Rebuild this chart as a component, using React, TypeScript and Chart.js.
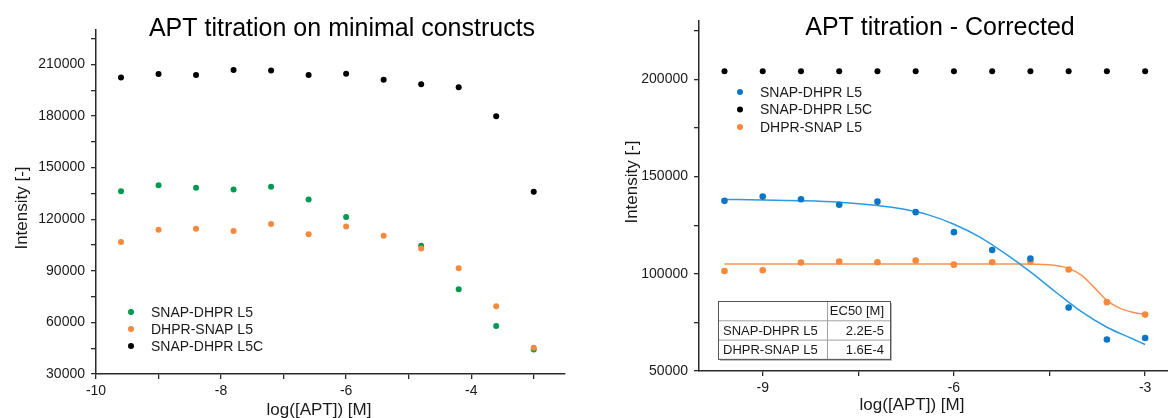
import React, { useEffect, useRef } from 'react';
import { Chart, registerables } from 'chart.js';

Chart.register(...registerables);

const FONT = '"Liberation Sans", Arial, Helvetica, sans-serif';

// ---------- shared x values: log([APT]) [M]
const logConc = [-9.6, -9.0, -8.4, -7.8, -7.2, -6.6, -6.0, -5.4, -4.8, -4.2, -3.6, -3.0];

const xAxisTitle = 'log([APT]) [M]';
const yAxisTitle = 'Intensity [-]';

// ---------- left panel (raw)
const leftTitle = 'APT titration on minimal constructs';
const leftNames = ['SNAP-DHPR L5', 'DHPR-SNAP L5', 'SNAP-DHPR L5C'];
const leftSnapL5 = [136300, 139800, 138300, 137300, 138800, 131400, 121300, null, 104600, 79300, 57900, 44300];
const leftDhprL5 = [106800, 113900, 114400, 113200, 117200, 111300, 115800, 110400, 103000, 91500, 69400, 45200];
const leftSnapL5C = [202400, 204400, 203800, 206800, 206400, 203800, 204500, 201100, 198400, 196700, 179900, 135900];
const leftXTicks = [-10, -9, -8, -7, -6, -5, -4, -3];
const leftXLabels = ['-10', '', '-8', '', '-6', '', '-4', ''];
const leftYTicks = [30000, 45000, 60000, 75000, 90000, 105000, 120000, 135000, 150000, 165000, 180000, 195000, 210000, 225000];
const leftYLabels = ['30000', '', '60000', '', '90000', '', '120000', '', '150000', '', '180000', '', '210000', ''];

// ---------- right panel (corrected)
const rightTitle = 'APT titration - Corrected';
const rightNames = ['SNAP-DHPR L5', 'SNAP-DHPR L5C', 'DHPR-SNAP L5'];
const rightSnapL5 = [137500, 139700, 138300, 135500, 137100, 131700, 121400, 112200, 107800, 82600, 66200, 67000];
const rightSnapL5C = [204100, 204100, 204100, 204100, 204100, 204100, 204100, 204100, 204100, 204100, 204100, 204100];
const rightDhprL5 = [101400, 101800, 105800, 106300, 105900, 106800, 104700, 105900, 106300, 102200, 85400, 79000];
const fitSnapX = [-9.6, -9.0, -8.4, -7.8, -7.2, -6.8, -6.4, -6.0, -5.6, -5.2, -4.8, -4.4, -4.0, -3.6, -3.2, -3.0];
const fitSnapY = [138200, 138000, 137600, 136800, 135100, 133300, 130300, 125500, 119000, 110500, 101000, 90500, 80500, 72500, 66600, 63600];
const fitDhprX = [-9.6, -5.0, -4.6, -4.4, -4.2, -4.0, -3.8, -3.6, -3.4, -3.2, -3.0];
const fitDhprY = [105000, 105000, 104800, 104300, 102800, 99300, 93000, 86300, 82300, 80200, 79100];
const rightXTicks = [-9, -7.5, -6, -4.5, -3];
const rightXLabels = ['-9', '', '-6', '', '-3'];
const rightYTicks = [50000, 75000, 100000, 125000, 150000, 175000, 200000, 225000];
const rightYLabels = ['50000', '', '100000', '', '150000', '', '200000', ''];

const ec50Header = 'EC50 [M]';
const ec50Names = ['SNAP-DHPR L5', 'DHPR-SNAP L5'];
const ec50Values = ['2.2E-5', '1.6E-4'];

// ---------- colours
const GREEN = '#009a4e';
const ORANGE = '#f7883c';
const BLACK = '#000000';
const BLUE = '#0b76c6';
const BLUE_LINE = '#2a9be0';
const ORANGE_LINE = '#f7944f';
const TEXT = '#1a1a1a';
const AXIS = '#2a2a2a';

const pts = (xs: number[], ys: (number | null)[]) =>
  xs.map((x, i) => ({ x, y: ys[i] })).filter((p) => p.y !== null);

const decorPlugin = {
  id: 'decor',
  afterDraw(chart: any, _args: any, o: any) {
    const ctx = chart.ctx;
    ctx.save();
    // title
    ctx.fillStyle = '#000';
    ctx.textAlign = 'center';
    ctx.textBaseline = 'alphabetic';
    ctx.font = `${o.titleSize}px ${FONT}`;
    ctx.fillText(o.title, o.titleX, o.titleY);
    // axis titles
    ctx.fillStyle = TEXT;
    ctx.font = `${o.axisSize}px ${FONT}`;
    ctx.fillText(o.xTitle, o.xTitleX, o.xTitleY);
    ctx.save();
    ctx.translate(o.yTitleX, o.yTitleY);
    ctx.rotate(-Math.PI / 2);
    ctx.textBaseline = 'middle';
    ctx.fillText(o.yTitle, 0, 0);
    ctx.restore();
    // legend
    const lg = o.legend;
    ctx.font = `${lg.size}px ${FONT}`;
    ctx.textAlign = 'left';
    ctx.textBaseline = 'middle';
    lg.items.forEach((it: any, i: number) => {
      const y = lg.y + i * lg.rowH;
      ctx.fillStyle = it.color;
      ctx.beginPath();
      ctx.arc(lg.x, y, lg.r, 0, Math.PI * 2);
      ctx.fill();
      ctx.fillStyle = TEXT;
      ctx.fillText(it.label, lg.x + lg.gap, y + 1);
    });
    // table
    const t = o.table;
    if (t) {
      const h = t.rowH * 3;
      ctx.fillStyle = '#b8b8b8';
      ctx.fillRect(t.x + 2, t.y + 2, t.w, h);
      ctx.fillStyle = '#fff';
      ctx.fillRect(t.x, t.y, t.w, h);
      ctx.strokeStyle = '#a0a0a0';
      ctx.lineWidth = 1;
      ctx.beginPath();
      ctx.moveTo(t.x, t.y + t.rowH + 0.5);
      ctx.lineTo(t.x + t.w, t.y + t.rowH + 0.5);
      ctx.moveTo(t.x, t.y + 2 * t.rowH + 0.5);
      ctx.lineTo(t.x + t.w, t.y + 2 * t.rowH + 0.5);
      ctx.moveTo(t.colX + 0.5, t.y);
      ctx.lineTo(t.colX + 0.5, t.y + h);
      ctx.stroke();
      ctx.strokeStyle = '#555';
      ctx.strokeRect(t.x + 0.5, t.y + 0.5, t.w, h);
      ctx.font = `${t.size}px ${FONT}`;
      ctx.fillStyle = TEXT;
      ctx.textBaseline = 'middle';
      ctx.textAlign = 'right';
      ctx.fillText(t.header, t.x + t.w - 6, t.y + t.rowH / 2 + 1);
      t.rows.forEach((r: string[], i: number) => {
        const cy = t.y + (i + 1.5) * t.rowH + 1;
        ctx.textAlign = 'left';
        ctx.fillText(r[0], t.x + 5, cy);
        ctx.textAlign = 'right';
        ctx.fillText(r[1], t.x + t.w - 6, cy);
      });
    }
    ctx.restore();
  },
};

function axisCommon(ticks: number[], labels: string[], fitKey: 'width' | 'height', fitSize: number, min: number, max: number) {
  return {
    type: 'linear' as const,
    min,
    max,
    afterBuildTicks: (s: any) => {
      s.ticks = ticks.map((v) => ({ value: v }));
    },
    afterFit: (s: any) => {
      s[fitKey] = fitSize;
    },
    grid: {
      display: true,
      drawOnChartArea: false,
      drawTicks: true,
      tickLength: 5,
      color: AXIS,
      lineWidth: 1.3,
    },
    border: { display: true, color: AXIS, width: 1.5 },
    ticks: {
      autoSkip: false,
      maxRotation: 0,
      minRotation: 0,
      padding: fitKey === 'height' ? 4 : 6,
      color: TEXT,
      font: { family: FONT, size: 14 },
      callback: (_v: any, i: number) => labels[i] ?? '',
    },
  };
}

function LeftChart() {
  const ref = useRef<HTMLCanvasElement | null>(null);
  useEffect(() => {
    if (!ref.current) return;
    const chart = new Chart(ref.current, {
      type: 'scatter',
      data: {
        datasets: [
          { label: leftNames[2], data: pts(logConc, leftSnapL5C), backgroundColor: BLACK, borderWidth: 0, pointRadius: 3 },
          { label: leftNames[1], data: pts(logConc, leftDhprL5), backgroundColor: ORANGE, borderWidth: 0, pointRadius: 3 },
          { label: leftNames[0], data: pts(logConc, leftSnapL5), backgroundColor: GREEN, borderWidth: 0, pointRadius: 3 },
        ],
      },
      options: {
        animation: false,
        responsive: false,
        devicePixelRatio: 1,
        layout: { padding: { top: 30, right: 15, left: 0, bottom: 0 } },
        plugins: {
          legend: { display: false },
          title: { display: false },
          tooltip: { enabled: false },
          decor: {
            title: leftTitle, titleSize: 25, titleX: 342, titleY: 36,
            axisSize: 17, xTitle: xAxisTitle, xTitleX: 319, xTitleY: 415,
            yTitle: yAxisTitle, yTitleX: 22, yTitleY: 208,
            legend: {
              x: 131, y: 312, rowH: 17, r: 3, gap: 20, size: 14,
              items: [
                { label: leftNames[0], color: GREEN },
                { label: leftNames[1], color: ORANGE },
                { label: leftNames[2], color: BLACK },
              ],
            },
          },
        } as any,
        scales: {
          x: axisCommon(leftXTicks, leftXLabels, 'height', 66, -10, -2.5) as any,
          y: axisCommon(leftYTicks, leftYLabels, 'width', 96, 30000, 230000) as any,
        },
      },
      plugins: [decorPlugin],
    });
    return () => chart.destroy();
  }, []);
  return <canvas ref={ref} width={580} height={440} style={{ position: 'absolute', left: 0, top: 0, width: 580, height: 440 }} />;
}

function RightChart() {
  const ref = useRef<HTMLCanvasElement | null>(null);
  useEffect(() => {
    if (!ref.current) return;
    const chart = new Chart(ref.current, {
      type: 'scatter',
      data: {
        datasets: [
          { label: rightNames[0], data: pts(logConc, rightSnapL5), backgroundColor: BLUE, borderWidth: 0, pointRadius: 3.3 },
          { label: rightNames[2], data: pts(logConc, rightDhprL5), backgroundColor: ORANGE, borderWidth: 0, pointRadius: 3.3 },
          { label: rightNames[1], data: pts(logConc, rightSnapL5C), backgroundColor: BLACK, borderWidth: 0, pointRadius: 3 },
          {
            label: 'fit ' + rightNames[0], data: pts(fitSnapX, fitSnapY), showLine: true, pointRadius: 0,
            borderColor: BLUE_LINE, borderWidth: 1.5, cubicInterpolationMode: 'monotone', fill: false,
          },
          {
            label: 'fit ' + rightNames[2], data: pts(fitDhprX, fitDhprY), showLine: true, pointRadius: 0,
            borderColor: ORANGE_LINE, borderWidth: 1.5, cubicInterpolationMode: 'monotone', fill: false,
          },
        ] as any,
      },
      options: {
        animation: false,
        responsive: false,
        devicePixelRatio: 1,
        layout: { padding: { top: 21, right: 23, left: 0, bottom: 0 } },
        plugins: {
          legend: { display: false },
          title: { display: false },
          tooltip: { enabled: false },
          decor: {
            title: rightTitle, titleSize: 25, titleX: 360, titleY: 35,
            axisSize: 17, xTitle: xAxisTitle, xTitleX: 332, xTitleY: 410,
            yTitle: yAxisTitle, yTitleX: 52, yTitleY: 182,
            legend: {
              x: 160, y: 92, rowH: 17.5, r: 3, gap: 20, size: 14,
              items: [
                { label: rightNames[0], color: BLUE },
                { label: rightNames[1], color: BLACK },
                { label: rightNames[2], color: ORANGE },
              ],
            },
            table: {
              x: 138, y: 301, w: 172, colX: 247, rowH: 19.3, size: 13,
              header: ec50Header,
              rows: ec50Names.map((n, i) => [n, ec50Values[i]]),
            },
          },
        } as any,
        scales: {
          x: axisCommon(rightXTicks, rightXLabels, 'height', 69, -10, -2.5) as any,
          y: axisCommon(rightYTicks, rightYLabels, 'width', 119, 50000, 230000) as any,
        },
      },
      plugins: [decorPlugin],
    });
    return () => chart.destroy();
  }, []);
  return <canvas ref={ref} width={620} height={440} style={{ position: 'absolute', left: 580, top: 0, width: 620, height: 440 }} />;
}

export default function App() {
  return (
    <div style={{ position: 'absolute', left: 0, top: 0, width: 1168, height: 418, overflow: 'hidden', background: '#fff' }}>
      <LeftChart />
      <RightChart />
    </div>
  );
}
